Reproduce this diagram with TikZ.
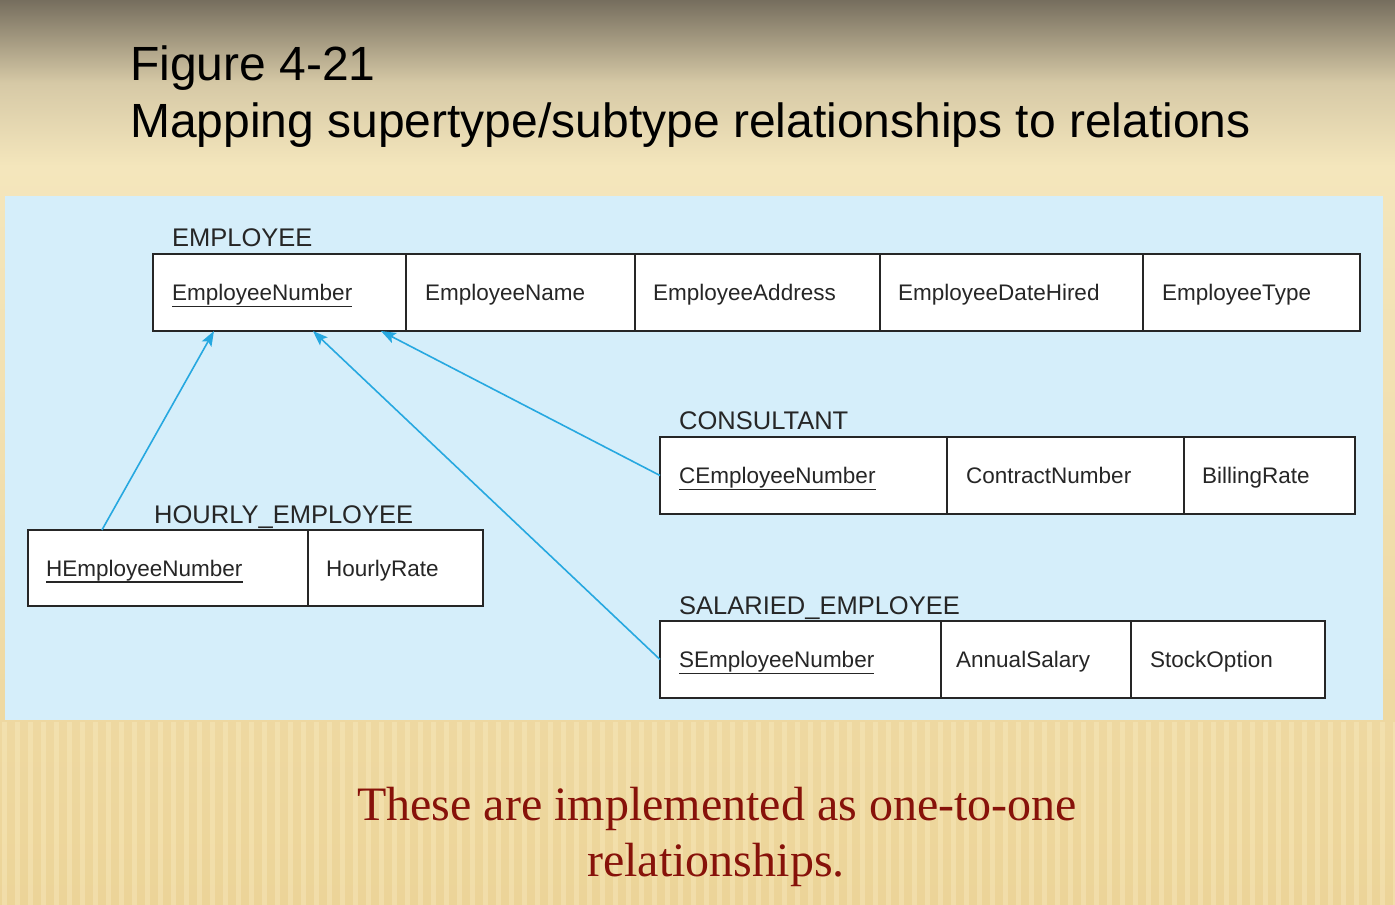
\documentclass[tikz,border=0pt]{standalone}
\usepackage{fontspec}
\setmainfont{Liberation Sans}
\newfontfamily\notefont{Liberation Serif}
\usetikzlibrary{arrows.meta,calc}
\definecolor{panelblue}{RGB}{213,238,250}
\definecolor{linkblue}{RGB}{38,168,224}
\definecolor{notered}{RGB}{135,18,10}
\definecolor{bgtop}{RGB}{118,110,94}
\definecolor{bgmid}{RGB}{214,201,166}
\definecolor{bgcream}{RGB}{244,230,188}
\definecolor{bggold}{RGB}{236,212,152}
\definecolor{stripe}{RGB}{249,234,190}
\definecolor{ink}{RGB}{38,38,38}
\begin{document}
\begin{tikzpicture}[x=1pt,y=-1pt,
  title/.style={font=\fontsize{48}{56}\selectfont, text=black, inner sep=0pt, anchor=base west},
  cell/.style={draw=ink, fill=white, line width=1.4pt, rectangle, minimum height=77pt, inner sep=0pt, outer sep=0pt, anchor=north west},
  attr/.style={font=\fontsize{22.5}{26}\selectfont, text=ink, inner sep=0pt, anchor=west, text height=16pt, text depth=0pt},
  relname/.style={font=\fontsize{25.5}{30}\selectfont, text=ink, inner sep=0pt, anchor=base west},
  key/.style={draw=ink, line width=1.3pt},
  link/.style={draw=linkblue, line width=1.6pt, -{Stealth[length=15pt,width=11pt,inset=3pt]}},
  note/.style={font=\notefont\fontsize{48}{56}\selectfont, text=notered, inner sep=0pt, anchor=base},
]
% background
\useasboundingbox (0,0) rectangle (1395,905);
\shade[top color=bgcream, bottom color=bggold] (0,165) rectangle (1395,905);
\shade[top color=bgtop, bottom color=bgcream, middle color=bgmid] (0,0) rectangle (1395,166);
\foreach \i in {0,...,107}
  \draw[stripe, line width=5pt, opacity=0.45] (\i*13+4,722) -- (\i*13+4,905);

% heading
\node[title] (t1) at (130,80) {Figure 4-21};
\node[title] (t2) at (130,137) {Mapping supertype/subtype relationships to relations};

% diagram panel
\fill[panelblue] (5,196) rectangle (1383,720);

% EMPLOYEE
\node[relname] (empl) at (172,246) {EMPLOYEE};
\node[cell, minimum width=253] (e1) at (153,254) {};
\node[cell, minimum width=229] (e2) at (e1.north east) {};
\node[cell, minimum width=245] (e3) at (e2.north east) {};
\node[cell, minimum width=263] (e4) at (e3.north east) {};
\node[cell, minimum width=217] (e5) at (e4.north east) {};
\node[attr] (e1t) at ([xshift=19pt]e1.west) {EmployeeNumber};
\node[attr] (e2t) at ([xshift=19pt]e2.west) {EmployeeName};
\node[attr] (e3t) at ([xshift=18pt]e3.west) {EmployeeAddress};
\node[attr] (e4t) at ([xshift=18pt]e4.west) {EmployeeDateHired};
\node[attr] (e5t) at ([xshift=19pt]e5.west) {EmployeeType};
\draw[key] ([yshift=-6pt]e1t.base west) -- ([yshift=-6pt]e1t.base east);

% CONSULTANT
\node[relname] (cons) at (679,429) {CONSULTANT};
\node[cell, minimum width=287] (c1) at (660,437) {};
\node[cell, minimum width=237] (c2) at (c1.north east) {};
\node[cell, minimum width=171] (c3) at (c2.north east) {};
\node[attr] (c1t) at ([xshift=19pt]c1.west) {CEmployeeNumber};
\node[attr] (c2t) at ([xshift=19pt]c2.west) {ContractNumber};
\node[attr] (c3t) at ([xshift=18pt]c3.west) {BillingRate};
\draw[key] ([yshift=-6pt]c1t.base west) -- ([yshift=-6pt]c1t.base east);

% HOURLY_EMPLOYEE
\node[relname] (hour) at (154,523) {HOURLY\_EMPLOYEE};
\node[cell, minimum width=280, minimum height=76pt] (h1) at (28,530) {};
\node[cell, minimum width=175, minimum height=76pt] (h2) at (h1.north east) {};
\node[attr] (h1t) at ([xshift=18pt]h1.west) {HEmployeeNumber};
\node[attr] (h2t) at ([xshift=18pt]h2.west) {HourlyRate};
\draw[key] ([yshift=-6pt]h1t.base west) -- ([yshift=-6pt]h1t.base east);

% SALARIED_EMPLOYEE
\node[relname] (sal) at (679,614) {SALARIED\_EMPLOYEE};
\node[cell, minimum width=281] (s1) at (660,621) {};
\node[cell, minimum width=190] (s2) at (s1.north east) {};
\node[cell, minimum width=194] (s3) at (s2.north east) {};
\node[attr] (s1t) at ([xshift=19pt]s1.west) {SEmployeeNumber};
\node[attr] (s2t) at ([xshift=15pt]s2.west) {AnnualSalary};
\node[attr] (s3t) at ([xshift=19pt]s3.west) {StockOption};
\draw[key] ([yshift=-6pt]s1t.base west) -- ([yshift=-6pt]s1t.base east);

% subtype-to-supertype links
\draw[link] ($(h1.north west)!0.264!(h1.north east)$) -- ($(e1.south west)!0.241!(e1.south east)$);
\draw[link] (s1.west) -- ($(e1.south west)!0.632!(e1.south east)$);
\draw[link] (c1.west) -- ($(e1.south west)!0.901!(e1.south east)$);

% remark
\node[note] (n1) at (717,820) {These are implemented as one-to-one};
\node[note] (n2) at (716,876) {relationships.};
\end{tikzpicture}
\end{document}
